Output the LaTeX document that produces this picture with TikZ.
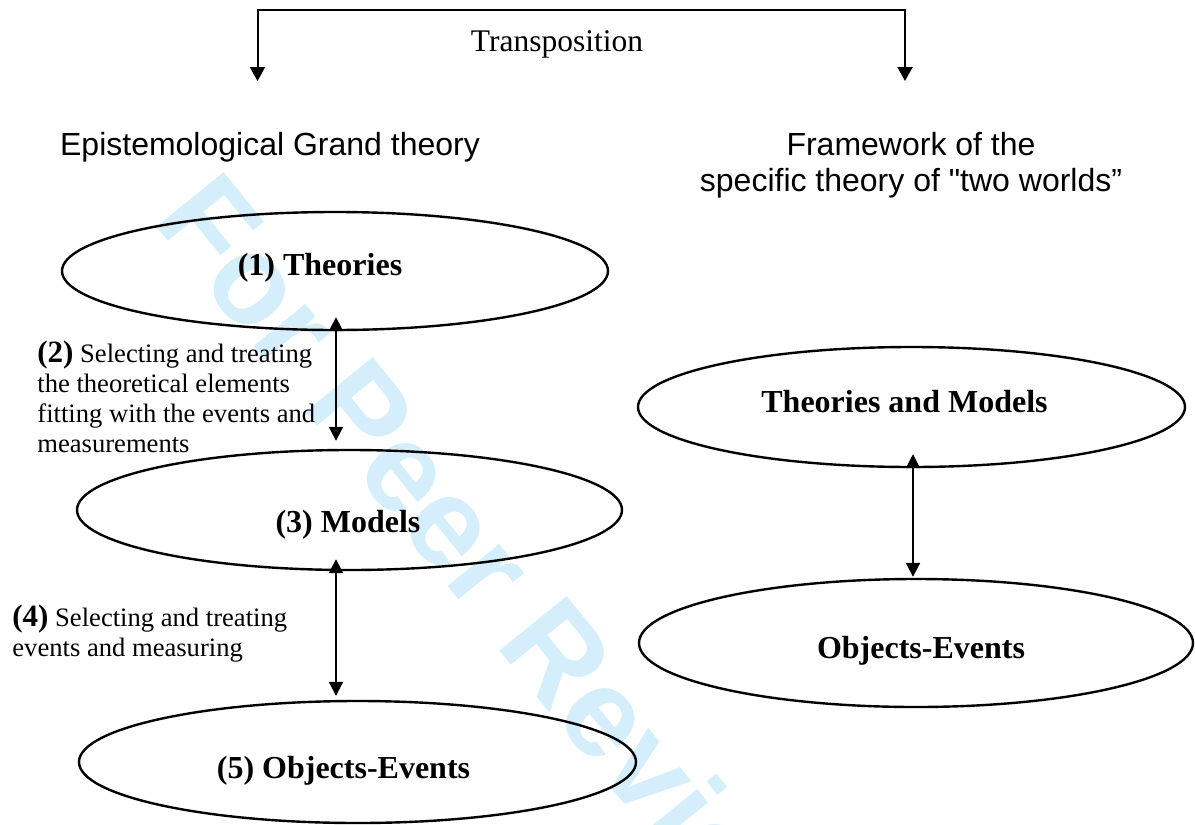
\documentclass[tikz,border=0pt]{standalone}
\usepackage{fontspec}
\setmainfont{Liberation Serif}
\newfontfamily\arialfont{Liberation Sans}
\usetikzlibrary{arrows.meta,shapes.geometric,calc}
\definecolor{wm}{RGB}{212,238,251}
\begin{document}
\begin{tikzpicture}[x=0.5pt,y=-0.5pt,
  ell/.style={ellipse, draw, line width=1.2pt, inner sep=0pt},
  etext/.style={font=\fontsize{16}{19}\selectfont\bfseries, inner sep=0pt, anchor=base},
  head/.style={font=\arialfont\fontsize{16}{18}\selectfont, align=center, inner sep=0pt, anchor=base},
  lbl/.style={font=\fontsize{13.3}{15}\selectfont, align=left, inner sep=0pt, anchor=base west},
  conn/.style={line width=1pt, {Triangle[length=7pt,width=7pt]}-{Triangle[length=7pt,width=7pt]}},
  bracket/.style={line width=1pt, {Triangle[length=7pt,width=7.5pt]}-{Triangle[length=7pt,width=7.5pt]}}]
\useasboundingbox (0,0) rectangle (1195,825);
% watermark
\begin{scope}
\clip (0,0) rectangle (1195,825);
\node[font=\arialfont\bfseries\fontsize{63}{63}\selectfont, text=wm, rotate=-51, anchor=base west, inner sep=0pt] (wmark) at (151,220) {For Peer Review};
\end{scope}
% headers
\node[font=\fontsize{15.75}{18}\selectfont, inner sep=0pt, anchor=base] (tr) at (557,51) {Transposition};
\node[head] (epi) at (270,155) {Epistemological Grand theory};
\node[head] (fw) at (911,191) {Framework of the\\specific theory of "two worlds”};
% bracket
\coordinate (bl) at (257.5,81);
\coordinate (bt) at (581,10);
\coordinate (br) at (905,81);
\draw[bracket] (bl) |- (bt) -| (br);
% left column
\node[ell, minimum width=273pt, minimum height=59pt] (e1) at (335,271) {};
\node[etext] (t1) at (320,275) {(1) Theories};
\node[ell, minimum width=272.5pt, minimum height=60pt] (e3) at (349.5,510) {};
\node[etext] (t3) at (348,532) {(3) Models};
\node[ell, minimum width=278.5pt, minimum height=61pt] (e5) at (357.5,762) {};
\node[etext] (t5) at (343.5,778) {(5) Objects-Events};
% right column
\node[ell, minimum width=273.5pt, minimum height=60pt] (etm) at (911.5,407) {};
\node[etext] (ttm) at (904.5,412) {Theories and Models};
\node[ell, minimum width=277pt, minimum height=64pt] (eoe) at (916,643) {};
\node[etext] (toe) at (921,658) {Objects-Events};
% labels (anchor base = baseline of last line)
\node[lbl] (l2) at (37,452) {{\fontsize{15.5}{15}\selectfont\bfseries (2)} Selecting and treating\\the theoretical elements\\fitting with the events and\\measurements};
\node[lbl] (l4) at (12,656) {{\fontsize{15.5}{15}\selectfont\bfseries (4)} Selecting and treating\\events and measuring};
% connectors
\draw[conn] ($(e1.south)+(1,-14)$) -- ($(e1.south |- e3.north)+(1,-8)$);
\draw[conn] ($(e1.south |- e3.south)+(1,-12)$) -- ($(e1.south |- e5.north)+(1,-4)$);
\draw[conn] ($(etm.south)+(1.5,-14)$) -- ($(etm.south |- eoe.north)+(1.5,-1)$);
\end{tikzpicture}
\end{document}
